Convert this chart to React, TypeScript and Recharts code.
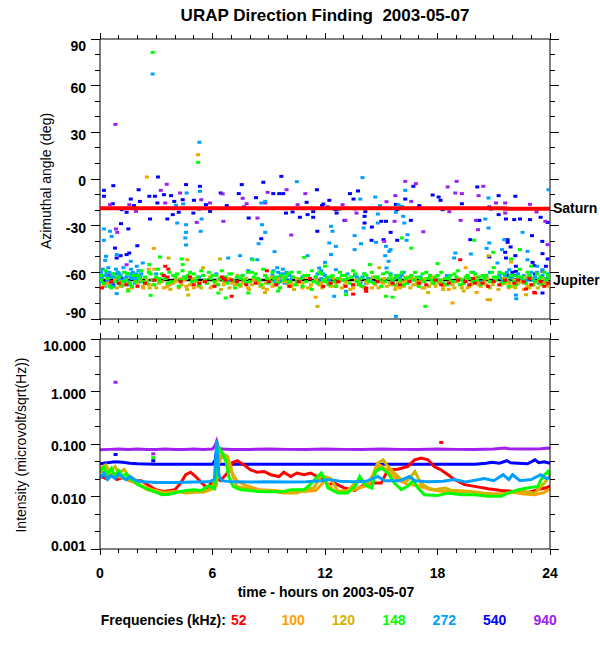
import React from "react";
import {
  ScatterChart, Scatter, ComposedChart, Line, XAxis, YAxis, ReferenceLine,
} from "recharts";

const FONT = "'Liberation Sans', Arial, Helvetica, sans-serif";

// channels in legend order (kHz)
const FREQS = ["52", "100", "120", "148", "272", "540", "940"];
const COLORS = ["#ff0000", "#ffa000", "#d2b400", "#00ff00", "#00a0ff", "#0000ff", "#a020f0"];

const HOUR_TICKS = [0, 1, 2, 3, 4, 5, 6, 7, 8, 9, 10, 11, 12, 13, 14, 15, 16, 17, 18, 19, 20, 21, 22, 23, 24];
const HOUR_LABELS = [0, 6, 12, 18, 24];
const ANGLE_TICKS = [-90, -80, -70, -60, -50, -40, -30, -20, -10, 0, 10, 20, 30, 40, 50, 60, 70, 80, 90];
const ANGLE_LABELS = [-90, -60, -30, 0, 30, 60, 90];
const INT_TICKS = [0.001, 0.00215, 0.00464, 0.01, 0.0215, 0.0464, 0.1, 0.215, 0.464, 1, 2.15, 4.64, 10];
const INT_LABELS = [0.001, 0.01, 0.1, 1, 10];

// source directions (deg)
const SATURN = [[0, -18.8], [21.6, -18.8], [21.6, -19.2], [24, -19.2]];
const JUPITER = [[0, -65], [24, -65]];

// azimuth points: [hour, deg]
const AZ_52 = [
  [0.1, -70], [0.6, -66], [1.4, -68], [2.4, -67], [3.4, -62], [3.6, -63], [4.3, -66], [5.0, -68], [5.6, -66],
  [6.6, -64], [7.0, -65], [7.3, -66], [8.3, -67], [9.4, -68], [10.6, -66], [11.9, -69], [12.7, -66], [13.5, -68],
  [14.2, -70], [15.6, -67], [16.5, -66], [17.4, -68], [18.6, -67], [19.1, -65], [19.5, -66], [19.9, -64], [20.4, -67],
  [21.0, -66], [21.6, -65], [22.1, -67], [22.6, -66], [23.0, -68], [23.5, -66], [23.9, -67], [6.5, -63], [6.7, -65],
  [1.0, -67], [2.0, -69], [2.9, -65], [4.8, -63], [5.3, -67], [6.1, -69], [7.8, -68], [9.0, -66], [10.1, -69],
  [11.2, -64], [12.3, -67], [13.1, -69], [14.8, -66], [16.0, -68], [17.0, -67], [17.9, -65], [18.2, -68], [20.7, -69],
  [21.3, -68], [22.9, -64], [23.7, -69],
  [7.02, -75.4], [14.18, -71.1], [22.72, -70.7], [23.16, -72.9], [19.21, -51.9], [3.48, -56.1], [3.64, -57.9],
  [23.2, -73.3], [14.2, -72.2], [13.5, -74], [8.9, -59], [20.0, -67], [22.3, -65], [19.7, -68],
];
const AZ_100 = [
  [0.4, -67], [1.1, -69], [1.9, -66], [2.6, -68], [3.4, -70], [4.0, -66], [4.6, -69], [5.3, -67], [5.9, -70], [6.6, -66],
  [7.2, -68], [7.9, -70], [8.5, -67], [9.2, -69], [9.8, -66], [10.5, -68], [11.2, -70], [11.8, -67], [12.5, -69],
  [13.1, -66], [13.8, -68], [14.5, -70], [15.1, -67], [15.8, -69], [16.3, -66], [16.8, -68], [17.3, -70], [17.8, -67],
  [18.3, -69], [18.8, -66], [19.3, -68], [19.8, -67], [20.3, -69], [20.8, -66], [21.3, -68], [21.8, -70], [22.3, -67],
  [22.8, -69], [23.3, -66], [23.8, -68],
  [0.8, -65], [1.5, -67], [2.3, -70], [3.0, -65], [3.7, -68], [4.3, -64], [5.0, -70], [5.6, -65], [6.3, -68], [6.9, -64],
  [7.6, -67], [8.2, -65], [8.9, -71], [9.5, -64], [10.2, -67], [10.8, -70], [11.5, -65], [12.2, -67], [12.8, -64],
  [13.5, -70], [14.2, -66], [14.8, -64], [15.5, -68], [16.0, -70], [16.6, -64], [17.1, -66], [17.6, -64], [18.1, -66],
  [18.6, -71], [19.1, -65], [19.6, -70], [20.1, -66], [20.6, -68], [21.1, -64], [21.6, -67], [22.1, -65], [22.6, -71],
  [23.1, -68], [23.6, -64],
  [2.5, 1.3], [5.23, 15.6], [2.88, -44.6], [3.56, -69.4], [20.8, -77.6], [18.8, -79.7], [20.08, -72.9], [21.92, -53.4],
  [11.5, -76], [19.5, -57], [2.9, -58],
];
const AZ_120 = [
  [0.2, -69], [0.6, -66], [0.9, -70], [1.3, -68], [1.7, -70], [2.0, -67], [2.3, -69], [2.5, -65], [2.8, -68], [3.0, -70],
  [3.3, -66], [3.6, -69], [3.9, -67], [4.2, -70], [4.5, -65], [4.8, -68], [5.1, -66], [5.4, -70], [5.7, -67], [6.0, -69],
  [6.3, -65], [6.6, -68], [6.9, -70], [7.2, -66], [7.5, -69], [7.8, -64], [8.1, -68], [8.4, -66], [8.7, -70], [9.0, -65],
  [9.3, -68], [9.6, -70], [9.9, -66], [10.2, -69], [10.5, -64], [10.8, -67], [11.1, -70], [11.4, -66], [11.7, -68],
  [12.0, -65], [12.3, -69], [12.6, -67], [12.9, -70], [13.2, -64], [13.5, -68], [13.8, -66], [14.1, -70], [14.4, -65],
  [14.7, -68], [15.0, -66], [15.3, -69], [15.6, -64], [15.9, -67], [16.2, -69], [16.4, -65], [16.7, -68], [16.9, -66],
  [17.2, -70], [17.4, -64], [17.7, -67], [17.9, -69], [18.2, -65], [18.4, -68], [18.7, -66], [18.9, -70], [19.2, -64],
  [19.4, -67], [19.7, -69], [19.9, -65], [20.2, -68], [20.5, -66], [20.8, -70], [21.1, -65], [21.4, -68], [21.7, -66],
  [22.0, -69], [22.3, -64], [22.6, -67], [22.9, -70], [23.2, -66], [23.5, -68], [23.8, -65],
  [0.4, -64], [1.1, -66], [1.5, -71], [2.15, -65], [2.65, -70], [3.15, -67], [3.45, -64], [3.75, -71], [4.05, -65],
  [4.35, -68], [4.65, -71], [4.95, -64], [5.25, -69], [5.55, -66], [5.85, -63], [6.15, -67], [6.45, -71], [6.75, -64],
  [7.05, -67], [7.35, -62], [7.65, -66], [7.95, -71], [8.25, -64], [8.55, -69], [8.85, -67], [9.15, -63], [9.45, -66],
  [9.75, -64], [10.05, -68], [10.35, -71], [10.65, -66], [10.95, -63], [11.25, -68], [11.55, -65], [11.85, -70],
  [12.15, -67], [12.45, -64], [12.75, -66], [13.05, -68], [13.35, -71], [13.65, -65], [13.95, -69], [14.25, -67],
  [14.55, -63], [14.85, -70], [15.15, -64], [15.45, -67], [15.75, -71], [16.05, -66], [16.3, -63], [16.55, -70],
  [16.8, -64], [17.05, -67], [17.3, -65], [17.55, -69], [17.8, -63], [18.05, -67], [18.3, -71], [18.55, -64],
  [18.8, -68], [19.05, -66], [19.3, -70], [19.55, -65], [19.8, -68], [20.05, -63], [20.35, -67], [20.65, -64],
  [20.95, -68], [21.25, -71], [21.55, -64], [21.85, -67], [22.15, -70], [22.45, -66], [22.75, -63], [23.05, -68],
  [23.35, -70], [23.65, -67], [23.95, -69],
  [11.6, -81.9], [4.71, -74.6], [3.66, -50.8], [4.66, -51.9], [20.72, -49.3], [20.67, -77.6], [22.72, -74.4],
  [6.4, -51.4], [2.6, -58], [5.5, -57], [8.8, -73], [14.9, -57], [17.5, -73], [19.4, -72],
];
const AZ_148 = [
  [0.1, -62], [0.2, -67], [0.4, -64], [0.5, -69], [0.7, -61], [0.8, -66], [1.0, -63], [1.1, -68], [1.3, -60], [1.4, -65],
  [1.6, -67], [1.8, -62], [1.9, -66], [2.1, -64], [2.2, -59], [2.4, -63], [2.5, -67], [2.7, -61], [2.8, -65], [3.0, -63],
  [3.1, -58], [3.2, -66], [3.4, -62], [3.5, -64], [3.7, -60], [3.8, -66], [4.0, -63], [4.1, -61], [4.3, -65], [4.4, -59],
  [4.6, -64], [4.7, -62], [4.9, -66], [5.0, -61], [5.2, -63], [5.3, -68], [5.5, -62], [5.6, -65], [5.8, -60], [5.9, -64],
  [6.1, -66], [6.2, -62], [6.4, -64], [6.5, -59], [6.7, -63], [6.8, -67], [7.0, -61], [7.1, -65], [7.3, -63], [7.4, -68],
  [7.6, -62], [7.7, -65], [7.9, -60], [8.0, -66], [8.2, -63], [8.3, -61], [8.5, -65], [8.6, -68], [8.8, -62], [8.9, -64],
  [9.1, -66], [9.2, -60], [9.4, -63], [9.5, -67], [9.7, -62], [9.8, -65], [10.0, -61], [10.1, -66], [10.3, -63],
  [10.4, -68], [10.6, -60], [10.7, -64], [10.9, -62], [11.0, -66], [11.2, -64], [11.3, -59], [11.5, -63], [11.6, -67],
  [11.8, -61], [11.9, -65], [12.1, -63], [12.2, -68], [12.4, -62], [12.5, -66], [12.7, -64], [12.8, -60], [13.0, -65],
  [13.1, -62], [13.3, -67], [13.4, -63], [13.6, -61], [13.7, -66], [13.9, -64], [14.0, -69], [14.2, -62], [14.3, -65],
  [14.5, -60], [14.6, -67], [14.8, -63], [14.9, -65], [15.1, -61], [15.2, -66], [15.4, -64], [15.5, -62], [15.7, -68],
  [15.8, -63], [16.0, -65], [16.1, -60], [16.3, -64], [16.4, -67], [16.6, -62], [16.7, -65], [16.9, -63], [17.0, -69],
  [17.2, -61], [17.3, -66], [17.5, -64], [17.6, -62], [17.8, -67], [17.9, -63], [18.1, -65], [18.2, -60], [18.4, -64],
  [18.5, -68], [18.7, -62], [18.8, -66], [19.0, -63], [19.1, -59], [19.3, -65], [19.4, -67], [19.6, -62], [19.7, -64],
  [19.9, -66], [20.0, -61], [20.2, -63], [20.3, -68], [20.5, -64], [20.6, -62], [20.8, -66], [20.9, -60], [21.1, -65],
  [21.2, -63], [21.4, -67], [21.5, -61], [21.7, -64], [21.8, -69], [22.0, -62], [22.1, -66], [22.3, -63], [22.4, -58],
  [22.6, -65], [22.7, -67], [22.9, -62], [23.0, -64], [23.2, -66], [23.3, -61], [23.5, -63], [23.6, -68], [23.8, -65],
  [23.9, -62],
  [0.05, -65], [0.3, -59], [0.6, -70], [0.9, -63], [1.2, -66], [1.5, -61], [1.7, -69], [2.0, -62], [2.3, -66], [2.6, -60],
  [2.9, -68], [3.15, -64], [3.3, -61], [3.6, -67], [3.9, -62], [4.2, -69], [4.5, -63], [4.8, -60], [5.1, -65], [5.4, -59],
  [5.7, -67], [6.0, -62], [6.3, -68], [6.6, -65], [6.9, -61], [7.2, -70], [7.5, -64], [7.8, -67], [8.1, -60], [8.4, -64],
  [8.7, -58], [9.0, -67], [9.3, -64], [9.6, -70], [9.9, -63], [10.2, -60], [10.5, -66], [10.8, -69], [11.1, -62],
  [11.4, -66], [11.7, -60], [12.0, -66], [12.3, -63], [12.6, -69], [12.9, -62], [13.2, -64], [13.5, -59], [13.8, -68],
  [14.1, -61], [14.4, -66], [14.7, -63], [15.0, -69], [15.3, -60], [15.6, -65], [15.9, -62], [16.2, -68], [16.5, -63],
  [16.8, -60], [17.1, -64], [17.4, -60], [17.7, -65], [18.0, -62], [18.3, -67], [18.6, -64], [18.9, -61], [19.2, -68],
  [19.5, -63], [19.8, -60], [20.1, -65], [20.4, -62], [20.7, -69], [21.0, -63], [21.3, -60], [21.6, -66], [21.9, -62],
  [22.2, -68], [22.5, -63], [22.8, -60], [23.1, -68], [23.4, -64], [23.7, -60], [24.0, -64],
  [2.81, 81.4], [5.23, 10.7], [2.7, -74.8], [2.63, -55], [3.2, -50.1], [4.36, -51.4], [4.41, -55], [6.31, -73.3],
  [6.7, -76.5], [7.91, -73.3], [8.14, -51.9], [10.89, -50.4], [13.12, -74.4], [15.25, -75.4], [15.6, -76], [18, -54.4],
  [17.35, -81.9], [19.96, -39.4], [20.97, -47.1], [22.4, -45.4], [21.92, -51.4], [16.6, -44.4], [16.1, -37.9],
  [1.5, -72], [9.5, -72], [12, -56], [14.4, -55], [21, -57], [23, -56], [11.3, -71],
];
const AZ_272 = [
  [0.05, -60], [0.1, -64], [0.2, -67], [0.3, -62], [0.4, -65], [0.5, -60], [0.6, -63], [0.7, -66], [0.8, -61], [0.9, -64],
  [1.0, -67], [1.1, -62], [1.2, -65], [1.3, -60], [1.4, -63], [1.5, -66], [1.6, -61], [1.7, -64], [1.8, -62], [1.9, -65],
  [2.0, -63], [2.1, -66], [2.2, -61], [0.15, -58], [0.45, -57], [0.85, -58], [1.25, -57], [1.65, -58], [2.05, -59],
  [0.02, -66], [0.25, -69], [0.35, -60], [0.55, -67], [0.65, -61], [0.75, -69], [0.95, -60], [1.05, -65], [1.15, -69],
  [1.35, -66], [1.45, -61], [1.55, -68], [1.75, -60], [1.85, -67], [1.95, -61], [2.15, -63], [2.25, -66], [0.12, -62],
  [0.42, -63], [0.72, -63], [1.02, -61], [1.32, -64], [1.62, -63], [1.92, -63],
  [9.2, -62], [9.3, -65], [9.4, -68], [9.5, -60], [9.6, -63], [9.7, -66], [9.8, -61], [9.9, -64], [10.0, -67], [10.1, -62],
  [9.45, -57], [9.75, -58], [9.25, -59], [9.35, -67], [9.55, -65], [9.65, -61], [9.85, -67], [9.95, -60], [10.15, -65],
  [10.25, -63],
  [11.5, -63], [11.7, -66], [11.9, -61], [12.1, -64], [12.3, -67], [11.8, -59], [11.6, -61], [11.8, -64], [12.0, -62],
  [12.2, -65], [13.6, -62], [13.8, -65], [14.0, -63], [14.2, -67], [14.4, -64], [13.7, -63], [13.9, -67], [14.1, -61],
  [14.3, -64], [14.5, -66], [15.5, -61], [15.7, -64], [15.9, -67], [16.1, -62], [16.3, -66], [15.6, -66], [15.8, -62],
  [16.0, -64], [16.2, -60],
  [21.3, -62], [21.5, -65], [21.7, -60], [21.9, -63], [22.1, -66], [22.3, -61], [22.5, -64], [22.7, -67], [22.9, -62],
  [23.1, -65], [23.3, -60], [23.5, -63], [23.7, -66], [23.9, -61], [21.4, -64], [21.6, -62], [21.8, -66], [22.0, -64],
  [22.2, -62], [22.4, -66], [22.6, -62], [22.8, -65], [23.0, -60], [23.2, -63], [23.4, -67], [23.6, -62], [23.8, -64],
  [24.0, -62],
  [18.5, -62], [19.6, -64], [20.3, -66], [6.9, -65], [5.3, -63], [3.8, -67], [12.9, -65], [17.1, -63], [20.8, -60],
  [7.6, -62], [3.0, -61], [4.5, -63], [6.2, -61], [7.2, -66], [8.4, -64], [10.8, -63], [13.2, -61], [17.6, -62],
  [18.9, -66], [19.9, -60], [20.6, -63],
  [2.81, 67.5], [5.3, 23.6], [14.0, 0.9], [10.5, -1.7], [4.62, -9], [4.44, -16], [4.05, -16.9], [4.59, -29.4],
  [4.59, -34.3], [4.55, -37.9], [4.59, -42.4], [4.12, -28.3], [5.42, -25.7], [5.37, -33.6], [5.33, -7.9], [0.21, -32.1],
  [0.21, -39.4], [0.53, -33.6], [0.62, -36.9], [0.32, -49.7], [0.28, -52.3], [0.89, -48.6], [1.64, -52.9], [2.28, -54],
  [1.96, -56.1], [0.89, -73.7], [7.47, -49.3], [6.84, -50.8], [7.91, -58.9],
  [8.6, -15.4], [8.81, -14.4], [8.64, -29.4], [8.81, -34.3], [8.46, -41.6], [9.31, -46.7], [12.32, -30.4], [12.4, -33.6],
  [12.23, -41.1], [12.58, -43.3], [12.32, -48.6], [13.58, -36.4], [13.58, -45.4], [13.92, -41.6], [14.06, -31.5],
  [13.88, -12.9], [14.68, -11.6], [14.82, -22.5], [14.82, -28.3], [14.72, -40.7], [15.25, -43.3], [15.21, -49.3],
  [15.43, -46.5], [15.5, -45.4], [15.39, -52.9], [15.28, -57.2], [14.93, -17.1], [15.78, -21.4], [15.92, -16.5],
  [12, -53.6], [11.07, -49.3], [11.69, -57.2], [12.58, -58.3], [15.78, -88.3], [12.49, -75.4], [13.12, -72.2],
  [8.39, -51.9], [8.1, -51.4],
  [16.28, -7.3], [16.1, -17.6], [16.23, -28.3], [16.4, -35.8], [16.35, -39.4], [16.17, -24], [20.72, -12.2],
  [20.55, -25.7], [20.72, -31.5], [20.76, -41.1], [20.62, -44.6], [21.56, -39], [21.44, -45.4], [22.54, -34.3],
  [22.8, -46.5], [22.8, -51.9], [23.32, -56.1], [23.6, -58.3], [23.92, -6.9], [18.95, -47.6], [18.89, -50.8],
  [19.78, -48.2], [22.18, -74.6], [21.2, -54], [21.83, -58.3], [22.2, -77],
];
const AZ_540 = [
  [0.71, -4.3], [0.21, -7.3], [0.21, -11.1], [0.68, -15.9], [1.64, -12.9], [2.06, -6.9], [2.13, -14.4], [2.63, -11.1],
  [2.93, -11.1], [3.09, 1.3], [3.06, -15.4], [3.41, -10.1], [3.79, -10.7], [3.96, -14.4], [4.59, -3.6], [4.41, -13.3],
  [5.01, -13.7], [5.33, -4.7], [5.65, -16.5], [5.87, -20.8], [6.44, -9], [6.76, -17.1], [7.4, -9.4], [7.56, -3.6],
  [7.68, -18], [7.93, -25.1], [3.59, -25.7], [3.88, -22.9], [2.67, -25.7], [1.42, -21.4], [1.12, -28.7], [1.51, -32.1],
  [1.99, -42.9], [0.8, -44.4], [1.42, -48.6], [1.56, -47.6], [0.89, -50.8], [1.1, -49.3], [4.98, -21.9], [5.3, -19.3],
  [4.2, -21.4], [1.81, -17.1], [1.16, -19.7],
  [9.67, 1.7], [8.71, -2.1], [8.32, -12], [9.24, -9.4], [9.56, -9.4], [9.77, -9.4], [11.57, -6.9], [11.84, -17.1],
  [12.23, -13.7], [13.33, -9.4], [13.76, -7.7], [13.52, -12.9], [14.11, -24], [14.11, -28.3], [14.5, -30.9], [15, -27.2],
  [15.25, -27.2], [15.12, -39], [15.5, -34.3], [15.85, -39.4], [15.85, -19.7], [15.78, -16.3], [11.02, -15],
  [11.07, -22.9], [9.92, -21.9], [10.27, -21.2], [11.59, -33.6], [8.6, -38.4], [12.62, -21.9], [12.14, -18],
  [14.15, -21], [11.91, -16.1], [10.66, -24.6], [11.37, -24.6], [12.55, -19.7], [11.37, -21], [12.76, -19.3],
  [13.04, -26.6], [14.48, -39.4],
  [16.71, -4.7], [16.28, -12.9], [16.58, -26.6], [17.03, -17.1], [17.74, -10.3], [18.06, -11.6], [18.16, -13.7],
  [18.27, -19.7], [19.3, -15.9], [20.12, -5.1], [20.12, -26.6], [21.26, -10.7], [20.76, -18], [20.85, -19.3],
  [21.26, -22.9], [21.65, -25.7], [22.09, -26.1], [22.4, -25.7], [22.15, -11.1], [22.93, -26.1], [23.5, -24.6],
  [23.87, -27.9], [23.04, -36.4], [23.59, -40.1], [19.75, -39], [21.74, -39], [21.74, -40.7], [21.61, -47.1],
  [21.65, -50.8], [22.15, -49.3], [22.18, -56.1], [22.18, -59.4], [22.22, -64.7], [23.07, -53.6], [23.16, -55.7],
  [23.6, -48], [23.78, -56.1], [23.87, -51.4], [23.6, -73.3], [21.9, -43.7], [20.76, -50.1], [20.23, -26.6],
  [0.3, -66], [0.7, -68], [1.2, -64], [21.8, -62], [22.5, -66], [22.9, -63], [23.4, -65], [21.5, -67], [22.0, -60],
  [23.2, -61],
];
const AZ_940 = [
  [0.82, 35.1], [3.24, -7.3], [3.56, -3.4], [3.48, -15.4], [4.27, -9], [1.92, -20.8], [0.85, -32.1], [0.92, -34.3],
  [5.87, -15.4], [6.54, -9.6], [6.58, -27.2], [7.61, -12.4], [7.82, -15.9], [5.16, -27.9], [5.4, -13.3], [0.53, -16.5],
  [1.56, -16.5], [1.42, -55.1], [9.95, -6.9], [10.95, -9.4], [8.94, -8.6], [8.81, -15.4], [8.4, -25.1], [10.54, -16.5],
  [10.2, -36], [12.94, -16.5], [13.08, -26.6], [13.61, -19.3], [13.68, -21.9], [15.75, -10.7], [15.28, -14.6],
  [15.71, -27.2], [15.16, -40.1], [16.28, -1.5], [16.85, -3], [16.6, -14.4], [18.54, -5.1], [19.02, -1.5], [18.95, -9],
  [19.3, -9.4], [20.19, -10.7], [20.44, -4.7], [21.12, -15.4], [21.61, -15.4], [21.61, -21.9], [22.93, -16.3],
  [23.28, -21.2], [23.75, -27.2], [23.87, -42.2], [23.6, -59.4], [19.23, -26.6], [20.16, -32.6], [17.24, -33.9],
  [18.63, -21], [20.05, -26.6], [0.5, -62], [23.9, -64],
];

// intensity traces: [hour, microvolt/sqrt(Hz)]
const IN_52 = [
  [0, 0.025], [0.3, 0.022], [0.6, 0.026], [0.9, 0.021], [1.2, 0.023], [1.6, 0.02], [2.2, 0.02], [2.97, 0.0135],
  [3.41, 0.0125], [4.0, 0.0135], [4.3, 0.018], [4.57, 0.026], [4.83, 0.029], [5.1, 0.024], [5.37, 0.019],
  [5.72, 0.0145], [6.0, 0.019], [6.2, 0.022], [6.43, 0.02], [6.79, 0.028], [7.06, 0.044], [7.32, 0.048], [7.68, 0.04],
  [8.03, 0.032], [8.39, 0.029], [8.75, 0.03], [9.1, 0.026], [9.55, 0.024], [9.8, 0.029], [10.17, 0.024], [10.5, 0.028],
  [10.88, 0.026], [11.23, 0.028], [11.59, 0.024], [11.95, 0.021], [12.15, 0.0168], [12.5, 0.018], [13.04, 0.0145],
  [13.58, 0.013], [14.11, 0.0168], [14.64, 0.018], [15.0, 0.018], [15.35, 0.032], [15.89, 0.033], [16.42, 0.0375],
  [16.78, 0.05], [17.13, 0.054], [17.49, 0.05], [17.84, 0.037], [18.2, 0.032], [18.56, 0.026], [18.91, 0.021],
  [19.44, 0.0168], [19.98, 0.0156], [20.69, 0.014], [21.4, 0.013], [22.11, 0.0125], [22.82, 0.012], [23.36, 0.0135],
  [23.89, 0.015], [24, 0.016],
];
const IN_100 = [
  [0, 0.03], [0.5, 0.027], [1.0, 0.024], [1.6, 0.02], [2.2, 0.016], [2.8, 0.0135], [3.4, 0.012], [4.0, 0.0125],
  [4.8, 0.0118], [5.5, 0.0125], [6.0, 0.014], [6.3, 0.04], [6.5, 0.06], [6.8, 0.045], [7.0, 0.03], [7.3, 0.02],
  [7.8, 0.016], [8.5, 0.0135], [9.3, 0.013], [10.1, 0.012], [10.8, 0.0125], [11.5, 0.013], [12.0, 0.02], [12.5, 0.0125],
  [13.4, 0.013], [14.2, 0.016], [14.9, 0.04], [15.3, 0.032], [15.8, 0.022], [16.4, 0.017], [17.0, 0.016],
  [17.6, 0.0135], [18.3, 0.0125], [19.0, 0.013], [19.8, 0.0125], [20.5, 0.0115], [21.3, 0.0112], [22.0, 0.012],
  [22.6, 0.0112], [23.2, 0.0108], [23.7, 0.012], [24, 0.014],
];
const IN_120 = [
  [0, 0.034], [0.3, 0.04], [0.5, 0.03], [0.8, 0.037], [1.0, 0.028], [1.3, 0.033], [1.5, 0.025], [1.8, 0.022],
  [2.2, 0.016], [2.5, 0.0135], [2.9, 0.0125], [3.3, 0.0116], [3.8, 0.012], [4.2, 0.0125], [4.6, 0.0116], [5.0, 0.0125],
  [5.5, 0.012], [5.9, 0.0135], [6.2, 0.016], [6.35, 0.05], [6.5, 0.065], [6.8, 0.058], [6.97, 0.0375], [7.1, 0.024],
  [7.3, 0.0156], [7.7, 0.0145], [8.2, 0.013], [9.1, 0.0128], [9.8, 0.0116], [10.5, 0.0116], [10.9, 0.0135],
  [11.4, 0.0145], [11.8, 0.025], [12.3, 0.022], [12.7, 0.0125], [13.2, 0.0128], [13.6, 0.018], [13.95, 0.021],
  [14.3, 0.0156], [14.8, 0.043], [15.1, 0.05], [15.35, 0.0375], [15.7, 0.028], [16.07, 0.021], [16.4, 0.02],
  [16.8, 0.03], [17.1, 0.018], [17.5, 0.0145], [17.84, 0.0135], [18.4, 0.0145], [18.9, 0.0125], [19.6, 0.0125],
  [20.3, 0.0116], [21.0, 0.0108], [21.76, 0.0116], [22.5, 0.0125], [23.2, 0.0116], [23.7, 0.018], [24, 0.025],
];
const IN_148 = [
  [0, 0.03], [0.2, 0.036], [0.4, 0.026], [0.6, 0.034], [0.8, 0.025], [1.0, 0.031], [1.2, 0.024], [1.4, 0.027],
  [1.6, 0.021], [1.8, 0.02], [2.0, 0.017], [2.3, 0.015], [2.6, 0.0135], [3.0, 0.012], [3.3, 0.0108], [3.7, 0.011],
  [4.0, 0.0118], [4.3, 0.0125], [4.6, 0.013], [5.0, 0.0135], [5.4, 0.013], [5.8, 0.016], [6.1, 0.014], [6.25, 0.04],
  [6.35, 0.085], [6.5, 0.07], [6.7, 0.05], [6.87, 0.024], [7.1, 0.0156], [7.5, 0.0135], [8.0, 0.013], [8.4, 0.0125],
  [9.0, 0.0123], [9.8, 0.0125], [10.2, 0.0135], [10.9, 0.0135], [11.2, 0.0168], [11.5, 0.022], [11.8, 0.028],
  [12.0, 0.021], [12.15, 0.0145], [12.7, 0.0116], [13.2, 0.0116], [13.6, 0.0156], [13.85, 0.024], [14.1, 0.0168],
  [14.5, 0.0145], [14.7, 0.03], [15.0, 0.035], [15.35, 0.028], [15.7, 0.018], [16.07, 0.0135], [16.4, 0.0156],
  [16.7, 0.02], [16.96, 0.0145], [17.3, 0.0108], [18.0, 0.0104], [18.55, 0.0116], [19.27, 0.0108], [20.0, 0.0108],
  [20.7, 0.0101], [21.4, 0.0101], [21.76, 0.0116], [22.3, 0.0135], [22.8, 0.0145], [23.35, 0.0156], [23.6, 0.024],
  [23.9, 0.03], [24, 0.026],
];
const IN_272 = [
  [0, 0.022], [0.2, 0.028], [0.4, 0.021], [0.6, 0.025], [0.8, 0.022], [1.0, 0.027], [1.2, 0.023], [1.4, 0.021],
  [1.6, 0.024], [1.8, 0.021], [2.0, 0.02], [2.3, 0.019], [3, 0.0185], [4, 0.0185], [5, 0.0188], [5.8, 0.019],
  [6.1, 0.021], [6.18, 0.06], [6.22, 0.12], [6.28, 0.05], [6.35, 0.025], [6.5, 0.02], [7, 0.019], [8, 0.0188],
  [9, 0.019], [10, 0.0188], [11, 0.019], [11.8, 0.02], [12.2, 0.021], [12.8, 0.0195], [13.5, 0.019], [14.2, 0.0195],
  [14.8, 0.024], [15.2, 0.02], [16, 0.02], [16.5, 0.024], [16.8, 0.02], [17.5, 0.019], [18.3, 0.0195], [18.9, 0.021],
  [19.5, 0.019], [20.5, 0.022], [21, 0.02], [21.5, 0.026], [21.8, 0.021], [22.0, 0.026], [22.4, 0.02], [23.0, 0.021],
  [23.5, 0.026], [23.8, 0.022], [24, 0.023],
];
const IN_540 = [
  [0, 0.042], [0.4, 0.044], [0.8, 0.046], [1.2, 0.045], [1.6, 0.043], [2.0, 0.042], [3, 0.041], [4, 0.041], [5, 0.041],
  [6.0, 0.041], [6.15, 0.05], [6.2, 0.07], [6.25, 0.045], [6.4, 0.041], [7, 0.041], [8, 0.041], [9, 0.041], [10, 0.041],
  [11, 0.041], [12, 0.041], [13, 0.041], [14, 0.041], [15, 0.041], [16, 0.041], [17, 0.041], [18, 0.041], [19, 0.041],
  [20, 0.041], [20.6, 0.043], [20.9, 0.045], [21.3, 0.043], [21.7, 0.048], [21.9, 0.044], [22.3, 0.043], [22.8, 0.042],
  [23.2, 0.05], [23.4, 0.044], [23.7, 0.046], [24, 0.043],
];
const IN_940 = [
  [0, 0.078], [0.5, 0.079], [1.0, 0.08], [1.5, 0.079], [2.0, 0.08], [2.5, 0.079], [3.0, 0.079], [3.5, 0.08],
  [4.0, 0.079], [4.5, 0.079], [5.0, 0.08], [5.5, 0.079], [6.0, 0.08], [6.15, 0.095], [6.22, 0.112], [6.3, 0.085],
  [6.5, 0.08], [7, 0.079], [8, 0.079], [9, 0.08], [10, 0.079], [11, 0.079], [12, 0.08], [13, 0.079], [14, 0.079],
  [15, 0.08], [16, 0.079], [17, 0.079], [18, 0.08], [19, 0.079], [20, 0.079], [21, 0.08], [21.6, 0.084], [21.8, 0.081],
  [22.5, 0.08], [23, 0.08], [23.5, 0.081], [23.9, 0.084], [24, 0.082],
];
// isolated intensity samples
const SPOTS_52 = [[18.2, 0.107]];
const SPOTS_148 = [[2.84, 0.055]];
const SPOTS_540 = [[0.83, 0.063], [2.84, 0.048]];
const SPOTS_940 = [[0.83, 1.5], [2.84, 0.065]];

const AZ = [AZ_52, AZ_100, AZ_120, AZ_148, AZ_272, AZ_540, AZ_940];
const IN = [IN_52, IN_100, IN_120, IN_148, IN_272, IN_540, IN_940];
const SPOTS = [SPOTS_52, [], [], SPOTS_148, [], SPOTS_540, SPOTS_940];
const AZ_ORDER = [5, 6, 4, 1, 2, 3, 0];
const IN_ORDER = [6, 5, 0, 1, 2, 3, 4];

const azPts = (a: number[][]) => a.map(([h, d]) => ({ h, d }));
const inPts = (a: number[][]) => a.map(([h, v]) => ({ h, v }));

type Side = "left" | "right" | "top" | "bottom";

function axisTick(side: Side, majors: number[], long: number, short: number,
  fmt?: (v: number) => string, nudge?: (v: number) => number) {
  return (p: any) => {
    const v = p.payload.value;
    const major = majors.includes(v);
    const len = major ? long : short;
    const { x, y } = p;
    let l = null;
    if (side === "left") l = <line x1={x - len} x2={x} y1={y} y2={y} />;
    if (side === "right") l = <line x1={x} x2={x + len} y1={y} y2={y} />;
    if (side === "top") l = <line x1={x} x2={x} y1={y - len} y2={y} />;
    if (side === "bottom") l = <line x1={x} x2={x} y1={y} y2={y + len} />;
    let t = null;
    if (fmt && major) {
      const txt = { fontFamily: FONT, fontSize: 14, fontWeight: "bold" as const, fill: "#000", stroke: "none" };
      if (side === "left") t = <text x={x - 14} y={y + (nudge ? nudge(v) : 7)} textAnchor="end" {...txt}>{fmt(v)}</text>;
      if (side === "bottom") t = <text x={x} y={y + 29} textAnchor="middle" {...txt}>{fmt(v)}</text>;
    }
    return (
      <g>
        <g stroke="#000" strokeWidth={1} shapeRendering="crispEdges">{l}</g>
        {t}
      </g>
    );
  };
}

const angleNudge = (v: number) => (v === 90 ? 12.4 : v === -90 ? -1 : 7.3);
const intNudge = (v: number) => (v === 10 ? 12.4 : v === 0.001 ? 2.4 : 7);

const AXIS_LINE = { stroke: "#000", strokeWidth: 1 };
const common = { tickLine: false, tickSize: 0, tickMargin: 0, interval: 0 as const, axisLine: AXIS_LINE, allowDataOverflow: true, type: "number" as const };

const square = (fill: string) => (p: any) => (
  <rect x={p.cx - 2} y={p.cy - 1.5} width={4} height={3} fill={fill} />
);
const noDot = () => <g />;

function AzimuthPanel() {
  return (
    <ScatterChart width={600} height={330} margin={{ top: 30, right: 40, bottom: 0, left: 40 }}>
      <XAxis xAxisId="b" dataKey="h" domain={[0, 24]} ticks={HOUR_TICKS} height={11} {...common}
        tick={axisTick("bottom", HOUR_LABELS, 6, 4)} />
      <XAxis xAxisId="t" orientation="top" dataKey="h" domain={[0, 24]} ticks={HOUR_TICKS} height={9} {...common}
        tick={axisTick("top", HOUR_LABELS, 6, 4)} />
      <YAxis yAxisId="l" dataKey="d" domain={[-90, 90]} ticks={ANGLE_TICKS} width={60} {...common}
        tick={axisTick("left", ANGLE_LABELS, 9, 5, (v) => String(v), angleNudge)} />
      <YAxis yAxisId="r" orientation="right" dataKey="d" domain={[-90, 90]} ticks={ANGLE_TICKS} width={10} {...common}
        tick={axisTick("right", ANGLE_LABELS, 9, 5)} />
      <ReferenceLine xAxisId="b" yAxisId="l" y={SATURN[0][1]} stroke="none"
        label={{ value: "Saturn", position: "right", offset: 3, fill: "#000", fontSize: 14, fontWeight: "bold", fontFamily: FONT }} />
      <ReferenceLine xAxisId="b" yAxisId="l" y={JUPITER[0][1]} stroke="none"
        label={{ value: "Jupiter", position: "right", offset: 3, fill: "#000", fontSize: 14, fontWeight: "bold", fontFamily: FONT }} />
      <Scatter xAxisId="b" yAxisId="l" data={azPts(JUPITER)} line={{ stroke: "#000", strokeWidth: 2.5 }}
        shape={noDot} isAnimationActive={false} />
      {AZ_ORDER.map((i) => (
        <Scatter key={FREQS[i]} xAxisId="b" yAxisId="l" name={FREQS[i]} data={azPts(AZ[i])}
          shape={square(COLORS[i])} isAnimationActive={false} />
      ))}
      <Scatter xAxisId="b" yAxisId="l" data={azPts(SATURN)} line={{ stroke: "#ff0000", strokeWidth: 4 }}
        shape={noDot} isAnimationActive={false} />
    </ScatterChart>
  );
}

function IntensityPanel() {
  return (
    <ComposedChart width={600} height={330} margin={{ top: 20, right: 40, bottom: 51, left: 40 }}>
      <XAxis xAxisId="b" dataKey="h" domain={[0, 24]} ticks={HOUR_TICKS} height={40} {...common}
        tick={axisTick("bottom", HOUR_LABELS, 6, 4, (v) => String(v))} />
      <XAxis xAxisId="t" orientation="top" dataKey="h" domain={[0, 24]} ticks={HOUR_TICKS} height={9} {...common}
        tick={axisTick("top", HOUR_LABELS, 6, 4)} />
      <YAxis yAxisId="l" dataKey="v" scale="log" domain={[0.001, 10]} ticks={INT_TICKS} width={60} {...common}
        tick={axisTick("left", INT_LABELS, 9, 5, (v) => v.toFixed(3), intNudge)} />
      <YAxis yAxisId="r" orientation="right" dataKey="v" scale="log" domain={[0.001, 10]} ticks={INT_TICKS} width={10} {...common}
        tick={axisTick("right", INT_LABELS, 9, 5)} />
      {IN_ORDER.map((i) => (
        <Line key={FREQS[i]} xAxisId="b" yAxisId="l" data={inPts(IN[i])} dataKey="v" name={FREQS[i]} type="linear"
          stroke={COLORS[i]} strokeWidth={3} dot={false} activeDot={false} isAnimationActive={false} />
      ))}
      {SPOTS.map((s, i) => s.length ? (
        <Scatter key={"s" + FREQS[i]} xAxisId="b" yAxisId="l" data={inPts(s)} dataKey="v"
          shape={square(COLORS[i])} isAnimationActive={false} />
      ) : null)}
    </ComposedChart>
  );
}

export default function App() {
  return (
    <div style={{ position: "absolute", left: 0, top: 0, width: 600, height: 650, background: "#fff", fontFamily: FONT }}>
      <div style={{ position: "absolute", left: 0, top: 0 }}><AzimuthPanel /></div>
      <div style={{ position: "absolute", left: 0, top: 310 }}><IntensityPanel /></div>
      <svg width={600} height={650} style={{ position: "absolute", left: 0, top: 0, pointerEvents: "none" }}
        fontFamily={FONT}>
        <text x={325} y={20.5} textAnchor="middle" fontSize={17} fontWeight="bold" style={{ whiteSpace: "pre" }}>
          URAP Direction Finding  2003-05-07
        </text>
        <text transform="translate(51,181) rotate(-90)" textAnchor="middle" fontSize={14}>Azimuthal angle (deg)</text>
        <text transform="translate(26,445) rotate(-90)" textAnchor="middle" fontSize={14}>Intensity (microvolt/sqrt(Hz))</text>
        <text x={326} y={597} textAnchor="middle" fontSize={14} fontWeight="bold">time - hours on 2003-05-07</text>
        <text x={100.7} y={625} fontSize={14} fontWeight="bold">Frequencies (kHz):</text>
        {FREQS.map((f, i) => (
          <text key={f} x={231 + i * 50.4} y={625} fontSize={14} fontWeight="bold" fill={COLORS[i]}>{f}</text>
        ))}
      </svg>
    </div>
  );
}
